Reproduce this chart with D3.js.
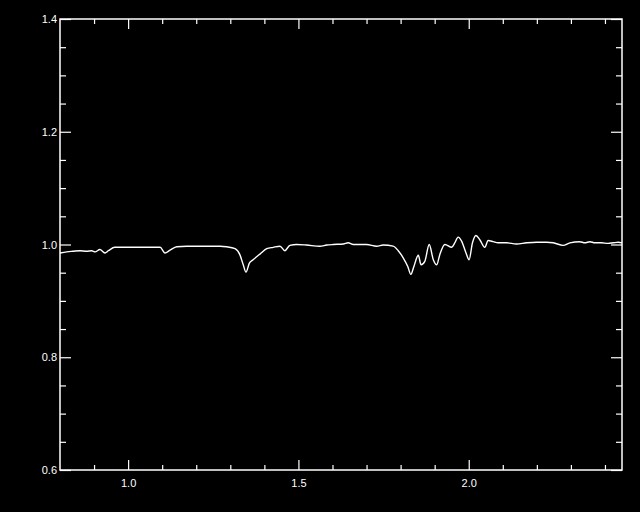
<!DOCTYPE html>
<html>
<head>
<meta charset="utf-8">
<script src="https://cdn.jsdelivr.net/npm/d3@7"></script>
<style>
  html, body { margin: 0; padding: 0; background: #000; }
  svg { display: block; }
</style>
</head>
<body>
<script>
// Spectrum: wavelength (x) and normalized flux (y)
const wavelength = [0.800,0.820,0.838,0.859,0.878,0.893,0.903,0.917,0.932,0.942,0.961,0.996,1.044,1.094,1.108,1.123,1.143,1.172,1.220,1.240,1.270,1.289,1.314,1.328,1.338,1.346,1.356,1.367,1.387,1.407,1.426,1.446,1.460,1.475,1.495,1.524,1.563,1.583,1.602,1.632,1.646,1.661,1.700,1.730,1.749,1.778,1.793,1.808,1.821,1.830,1.839,1.852,1.860,1.871,1.884,1.896,1.906,1.915,1.930,1.950,1.959,1.969,1.979,1.992,2.001,2.011,2.021,2.033,2.047,2.057,2.072,2.086,2.111,2.140,2.170,2.199,2.229,2.248,2.277,2.297,2.326,2.341,2.356,2.370,2.390,2.409,2.424,2.439,2.450];
const flux = [0.985,0.987,0.988,0.989,0.988,0.989,0.987,0.991,0.985,0.989,0.995,0.995,0.995,0.995,0.985,0.990,0.996,0.997,0.997,0.997,0.997,0.996,0.9925,0.982,0.964,0.951,0.967,0.973,0.983,0.9925,0.995,0.997,0.989,0.9985,1.000,0.999,0.997,0.999,1.000,1.001,1.003,1.000,1.000,0.997,0.999,0.997,0.989,0.976,0.961,0.947,0.961,0.981,0.964,0.970,1.000,0.973,0.964,0.982,1.000,0.995,1.003,1.013,1.006,0.985,0.973,1.003,1.016,1.008,0.995,1.007,1.005,1.003,1.003,1.001,1.003,1.004,1.004,1.003,0.9985,1.003,1.005,1.003,1.005,1.003,1.003,1.002,1.003,1.004,1.003];
const xMajorTicks = [1.0, 1.5, 2.0];
const xMinorTicks = [0.9,1.1,1.2,1.3,1.4,1.6,1.7,1.8,1.9,2.1,2.2,2.3,2.4];
const yMajorTicks = [0.6, 0.8, 1.0, 1.2, 1.4];
const yMinorTicks = [0.65,0.7,0.75,0.85,0.9,0.95,1.05,1.1,1.15,1.25,1.3,1.35];

const W = 640, H = 512;
const L = 60, R = 622, T = 19, B = 470;

const svg = d3.select("body").append("svg").attr("width", W).attr("height", H)
  .style("background", "#000");

const x = d3.scaleLinear().domain([0.8, 2.45]).range([L, R]);
const y = d3.scaleLinear().domain([0.6, 1.4]).range([B, T]);

const font = "'Liberation Sans', Arial, sans-serif";

function styleAxis(g) {
  g.select(".domain").remove();
  g.selectAll("line").attr("stroke", "#fff").attr("stroke-width", 1.2);
  g.selectAll("text").attr("fill", "#fff").style("font-family", font).style("font-size", "11px");
}

// bottom
svg.append("g").attr("transform", `translate(0,${B})`)
  .call(d3.axisBottom(x).tickValues(xMajorTicks).tickSize(-10).tickPadding(9).tickFormat(d3.format(".1f")))
  .call(styleAxis);
svg.append("g").attr("transform", `translate(0,${B})`)
  .call(d3.axisBottom(x).tickValues(xMinorTicks).tickSize(-5).tickFormat(""))
  .call(styleAxis);
// top
svg.append("g").attr("transform", `translate(0,${T})`)
  .call(d3.axisTop(x).tickValues(xMajorTicks).tickSize(-10).tickFormat(""))
  .call(styleAxis);
svg.append("g").attr("transform", `translate(0,${T})`)
  .call(d3.axisTop(x).tickValues(xMinorTicks).tickSize(-5).tickFormat(""))
  .call(styleAxis);
// left
svg.append("g").attr("transform", `translate(${L},0)`)
  .call(d3.axisLeft(y).tickValues(yMajorTicks).tickSize(-11).tickPadding(3).tickFormat(d3.format(".1f")))
  .call(styleAxis);
svg.append("g").attr("transform", `translate(${L},0)`)
  .call(d3.axisLeft(y).tickValues(yMinorTicks).tickSize(-6).tickFormat(""))
  .call(styleAxis);
// right
svg.append("g").attr("transform", `translate(${R},0)`)
  .call(d3.axisRight(y).tickValues(yMajorTicks).tickSize(-11).tickFormat(""))
  .call(styleAxis);
svg.append("g").attr("transform", `translate(${R},0)`)
  .call(d3.axisRight(y).tickValues(yMinorTicks).tickSize(-6).tickFormat(""))
  .call(styleAxis);

// frame
svg.append("rect").attr("x", L).attr("y", T).attr("width", R - L).attr("height", B - T)
  .attr("fill", "none").attr("stroke", "#fff").attr("stroke-width", 1.5);

// spectrum line
const data = wavelength.map((w, i) => [w, flux[i]]);
svg.append("path").datum(data)
  .attr("fill", "none").attr("stroke", "#fff").attr("stroke-width", 1.4)
  .attr("d", d3.line().x(d => x(d[0])).y(d => y(d[1])).curve(d3.curveMonotoneX));
</script>
</body>
</html>
